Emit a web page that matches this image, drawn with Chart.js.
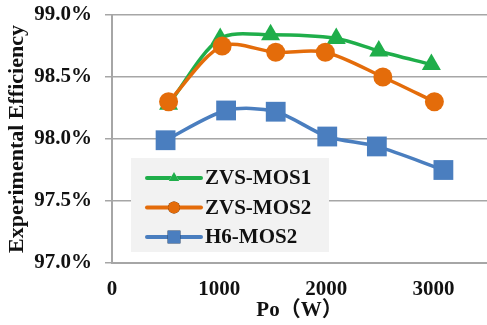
<!DOCTYPE html>
<html>
<head>
<meta charset="utf-8">
<script src="https://cdn.jsdelivr.net/npm/chart.js@4/dist/chart.umd.min.js"></script>
<style>
  html, body { margin: 0; padding: 0; background: #fff; }
  #wrap { width: 487px; height: 325px; }
</style>
</head>
<body>
<div id="wrap"><canvas id="chart" width="487" height="325"></canvas></div>
<script>
// Output power (W) for each measured point
const powerMos1 = [528, 1010, 1480, 2093, 2490, 2981];
const powerMos2 = [528, 1028, 1528, 1991, 2528, 3009];
const powerH6 = [500, 1065, 1528, 2009, 2472, 3093];

// Efficiency (%)
const effMos1 = [98.28, 98.81, 98.84, 98.81, 98.71, 98.60];
const effMos2 = [98.30, 98.75, 98.70, 98.70, 98.50, 98.30];
const effH6 = [97.99, 98.23, 98.22, 98.02, 97.94, 97.75];

const seriesNames = ['ZVS-MOS1', 'ZVS-MOS2', 'H6-MOS2'];
const xTicks = [0, 1000, 2000, 3000];
const yTicks = [97.0, 97.5, 98.0, 98.5, 99.0];
const xTitle = 'Po（W）';
const yTitle = 'Experimental Efficiency';

const GREEN = '#1fae4a';
const ORANGE = '#e46c0a';
const BLUE = '#4a7ebf';
const FONT = '"Liberation Serif", "Noto Sans CJK SC"';
const FSIZE = 21;

const toPoints = (xs, ys) => xs.map((x, i) => ({ x: x, y: ys[i] }));

// legend drawn inside the plot, grey box like the original
const boxLegend = {
    id: 'boxLegend',
    afterDraw(chart) {
        const ctx = chart.ctx;
        const area = chart.chartArea;
        const x0 = area.left + 19;
        const y0 = area.top + 143;
        ctx.save();
        ctx.fillStyle = '#f2f2f2';
        ctx.fillRect(x0, y0, 198, 94);
        const markers = [
            { style: 'triangle', radius: 6 },
            { style: 'circle', radius: 6 },
            { style: 'rect', radius: 9 }
        ];
        chart.data.datasets.forEach((ds, i) => {
            const y = y0 + 20 + i * 29.5;
            ctx.strokeStyle = ds.borderColor;
            ctx.lineWidth = 4;
            ctx.lineCap = 'round';
            ctx.beginPath();
            ctx.moveTo(x0 + 16, y);
            ctx.lineTo(x0 + 70, y);
            ctx.stroke();
            Chart.helpers.drawPoint(ctx, {
                pointStyle: markers[i].style,
                radius: markers[i].radius,
                borderWidth: 0,
                rotation: 0
            }, x0 + 43, y);
            ctx.fillStyle = ds.borderColor;
            ctx.fill();
            ctx.fillStyle = '#111';
            ctx.font = 'bold ' + FSIZE + 'px ' + FONT;
            ctx.textBaseline = 'middle';
            ctx.textAlign = 'left';
            ctx.fillText(ds.label, x0 + 74, y + 1);
        });
        ctx.restore();
    }
};

const makeSet = (label, pts, color, style, radius, order) => ({
    label: label,
    data: pts,
    borderColor: color,
    backgroundColor: color,
    borderWidth: 3.5,
    pointStyle: style,
    pointRadius: radius,
    pointHoverRadius: radius,
    pointBorderWidth: 0,
    tension: 0.3,
    order: order
});

const font = { family: FONT, size: FSIZE, weight: 'bold' };

// no extra room for overhanging tick labels, the box sizes are fixed below
const noPad = scale => {
    scale.paddingTop = 0;
    scale.paddingBottom = 0;
    scale.paddingLeft = 0;
    scale.paddingRight = 0;
};

new Chart(document.getElementById('chart').getContext('2d'), {
    type: 'line',
    data: {
        datasets: [
            makeSet(seriesNames[0], toPoints(powerMos1, effMos1), GREEN, 'triangle', 11, 2),
            makeSet(seriesNames[1], toPoints(powerMos2, effMos2), ORANGE, 'circle', 9.5, 1),
            makeSet(seriesNames[2], toPoints(powerH6, effH6), BLUE, 'rect', 14, 0)
        ]
    },
    options: {
        responsive: false,
        animation: false,
        layout: { autoPadding: false, padding: { top: 15, right: 0, left: 0, bottom: 0 } },
        plugins: {
            legend: { display: false },
            tooltip: { enabled: false }
        },
        scales: {
            x: {
                type: 'linear',
                min: 0,
                max: 3500,
                afterBuildTicks(scale) { scale.ticks = xTicks.map(v => ({ value: v })); },
                ticks: {
                    padding: 14,
                    color: '#111',
                    font: font,
                    callback: v => String(v)
                },
                grid: { display: false, drawTicks: false },
                border: { display: true, color: '#a6a6a6', width: 2 },
                title: {
                    display: true,
                    text: xTitle,
                    color: '#111',
                    padding: { top: 0, bottom: 2 },
                    font: font
                },
                afterFit(scale) { scale.height = 62; noPad(scale); }
            },
            y: {
                min: 97,
                max: 99,
                afterBuildTicks(scale) { scale.ticks = yTicks.map(v => ({ value: v })); },
                ticks: {
                    padding: 13,
                    color: '#111',
                    font: font,
                    callback: v => v.toFixed(1) + '%'
                },
                grid: { color: '#a6a6a6', lineWidth: 1.5, tickLength: 7 },
                border: { display: true, color: '#a6a6a6', width: 2 },
                title: {
                    display: true,
                    text: yTitle,
                    color: '#111',
                    padding: { top: 4, bottom: 0 },
                    font: { family: FONT, size: 22, weight: 'bold' }
                },
                afterFit(scale) { scale.width = 112; noPad(scale); }
            }
        }
    },
    plugins: [boxLegend]
});
</script>
</body>
</html>
